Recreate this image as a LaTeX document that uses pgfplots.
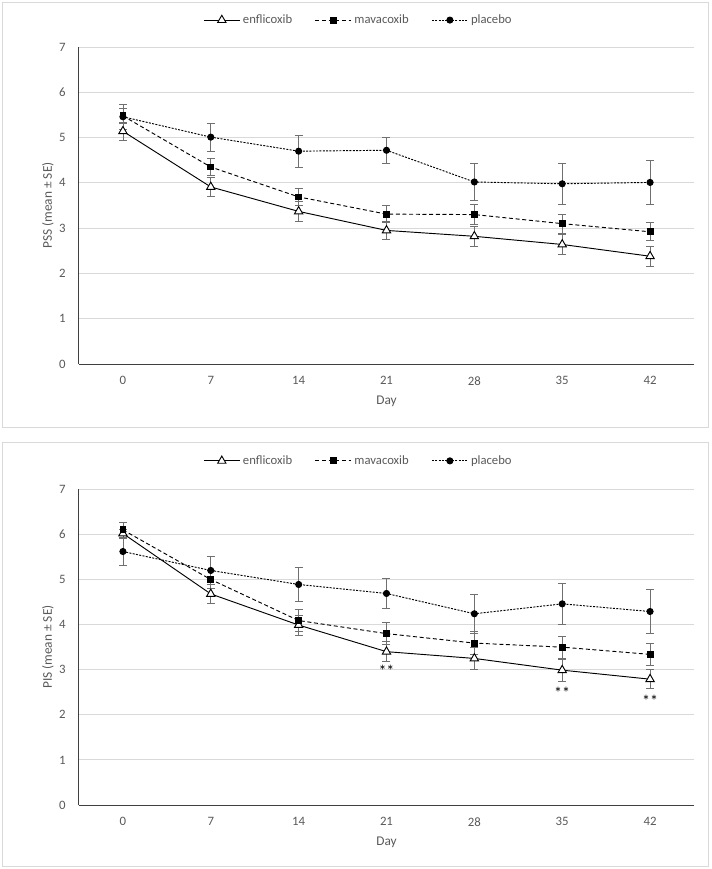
\documentclass[border=0pt]{standalone}
\usepackage{pgfplots}
\pgfplotsset{compat=1.18}
\usepackage{fontspec}
\setmainfont{Carlito}
\definecolor{txt}{HTML}{595959}
\definecolor{grd}{HTML}{D9D9D9}
\definecolor{ebar}{HTML}{707070}
\definecolor{axl}{HTML}{404040}
\pgfplotsset{
  myaxis/.style={
    scale only axis,
    width=461.25pt,
    xmin=-3.5, xmax=45.5,
    ymin=0, ymax=7,
    xtick={0,7,14,21,28,35,42},
    ytick={0,1,...,7},
    axis x line*=bottom,
    axis y line*=left,
    axis line style={axl, line width=0.75pt, -},
    major tick length=0pt,
    ymajorgrids,
    grid style={grd, line width=0.75pt},
    /pgf/number format/assume math mode=true,
    tick label style={font=\fontsize{9.6}{12}\selectfont, text=txt},
    xticklabel style={anchor=center, yshift=-12.5pt},
    yticklabel style={anchor=east, xshift=-6.5pt},
    label style={font=\fontsize{10}{12}\selectfont, text=txt},
    xlabel={Day},
    legend columns=3,
    legend style={draw=none, fill=none, font=\fontsize{9.5}{12}\selectfont, text=txt,
      /tikz/every even column/.append style={column sep=15pt}},
    legend image code/.code={\draw[mark repeat=2, mark phase=2, #1] plot coordinates {(0pt,0pt) (13.5pt,0pt) (27pt,0pt)};},
    error bars/y dir=both,
    error bars/y explicit,
    error bars/error bar style={ebar, line width=0.6pt, solid},
    error bars/error mark options={ebar, rotate=90, mark size=3pt, line width=0.6pt, solid},
  },
  enfl/.style={black, line width=0.7pt, mark=triangle*, mark size=3.6pt,
    mark options={solid, fill=white, draw=black, line width=0.7pt}},
  mava/.style={black, line width=0.7pt, dash pattern=on 3pt off 2pt, mark=square*, mark size=2.2pt,
    mark options={solid, fill=black}},
  plac/.style={black, line width=0.7pt, dash pattern=on 1.5pt off 1pt, mark=*, mark size=2.3pt,
    mark options={solid, fill=black}},
}
\begin{document}
\begin{tikzpicture}
\path[use as bounding box] (0pt,0pt) rectangle (534pt,-651.75pt);
\draw[grd, line width=0.75pt] (1.5pt,-1.5pt) rectangle (531pt,-320.25pt);
\draw[grd, line width=0.75pt] (1.5pt,-331.5pt) rectangle (531pt,-649.5pt);

\begin{axis}[myaxis, at={(59.25pt,-273pt)}, anchor=south west, height=237.75pt,
  ylabel={PSS (mean ± SE)},
  ylabel style={at={(axis description cs:-0.0504,0.5)}, anchor=center},
  xlabel style={at={(axis description cs:0.5,-0.119)}, anchor=center},
  legend style={at={(axis description cs:0.455,1.085)}, anchor=center}]
\addplot+[enfl] coordinates {
 (0,5.14) +- (0,0.20) (7,3.91) +- (0,0.21) (14,3.37) +- (0,0.21) (21,2.95) +- (0,0.19)
 (28,2.82) +- (0,0.22) (35,2.64) +- (0,0.22) (42,2.38) +- (0,0.22)};
\addlegendentry{enflicoxib}
\addplot+[mava] coordinates {
 (0,5.48) +- (0,0.16) (7,4.35) +- (0,0.18) (14,3.69) +- (0,0.19) (21,3.31) +- (0,0.19)
 (28,3.30) +- (0,0.22) (35,3.10) +- (0,0.21) (42,2.92) +- (0,0.20)};
\addlegendentry{mavacoxib}
\addplot+[plac] coordinates {
 (0,5.46) +- (0,0.27) (7,5.01) +- (0,0.31) (14,4.70) +- (0,0.35) (21,4.72) +- (0,0.29)
 (28,4.02) +- (0,0.41) (35,3.98) +- (0,0.45) (42,4.01) +- (0,0.49)};
\addlegendentry{placebo}
\end{axis}

\begin{axis}[myaxis, at={(59.25pt,-603.75pt)}, anchor=south west, height=236.8pt,
  ylabel={PIS (mean ± SE)},
  ylabel style={at={(axis description cs:-0.0504,0.5)}, anchor=center},
  xlabel style={at={(axis description cs:0.5,-0.117)}, anchor=center},
  legend style={at={(axis description cs:0.455,1.09)}, anchor=center}]
\addplot+[enfl] coordinates {
 (0,6.02) +- (0,0.10) (7,4.68) +- (0,0.21) (14,3.99) +- (0,0.22) (21,3.40) +- (0,0.22)
 (28,3.25) +- (0,0.24) (35,2.99) +- (0,0.24) (42,2.79) +- (0,0.21)};
\addlegendentry{enflicoxib}
\addplot+[mava] coordinates {
 (0,6.10) +- (0,0.16) (7,5.00) +- (0,0.20) (14,4.09) +- (0,0.24) (21,3.80) +- (0,0.24)
 (28,3.59) +- (0,0.25) (35,3.50) +- (0,0.24) (42,3.34) +- (0,0.25)};
\addlegendentry{mavacoxib}
\addplot+[plac] coordinates {
 (0,5.62) +- (0,0.30) (7,5.20) +- (0,0.31) (14,4.89) +- (0,0.37) (21,4.69) +- (0,0.34)
 (28,4.24) +- (0,0.43) (35,4.46) +- (0,0.45) (42,4.29) +- (0,0.49)};
\addlegendentry{placebo}
\node[font=\fontsize{12}{14}\selectfont, black] at (axis cs:21,2.97) {**};
\node[font=\fontsize{12}{14}\selectfont, black] at (axis cs:35,2.49) {**};
\node[font=\fontsize{12}{14}\selectfont, black] at (axis cs:42,2.31) {**};
\end{axis}
\end{tikzpicture}
\end{document}
